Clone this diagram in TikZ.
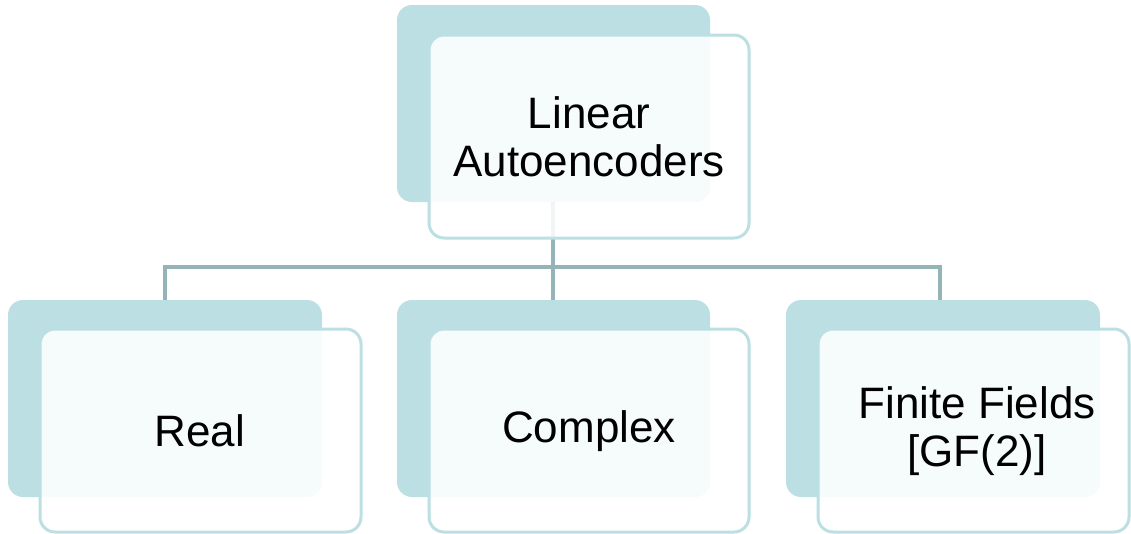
\documentclass[tikz,border=0pt]{standalone}
\usepackage{fontspec}
\setmainfont{Liberation Sans}
\definecolor{backfill}{HTML}{BCDFE3}
\definecolor{frontline}{HTML}{BCDFE3}
\definecolor{conn}{HTML}{94B4B8}
\begin{document}
\begin{tikzpicture}[x=1pt,y=-1pt,
  backbox/.style={fill=backfill,rounded corners=15pt},
  frontbox/.style={draw=frontline,line width=3pt,fill=white,fill opacity=0.88,draw opacity=1,text opacity=1,rounded corners=15pt},
  lbl/.style={font=\fontsize{44}{48}\selectfont,align=center,text=black},
  connline/.style={draw=conn,line width=4pt}]
\useasboundingbox (0,0) rectangle (1131,533);
% back boxes
\fill[backbox] (397,5) rectangle (710,202);
\fill[backbox] (8,300) rectangle (322,497);
\fill[backbox] (397,300) rectangle (710,497);
\fill[backbox] (786,300) rectangle (1100,497);
% connectors
\coordinate (top) at (553,202);
\coordinate (bar) at (553,267);
\coordinate (c1) at (165,300);
\coordinate (c2) at (553,300);
\coordinate (c3) at (940,300);
\draw[connline] (top) -- (bar);
\draw[connline] (c1) |- (bar) -| (c3);
\draw[connline] (bar) -- (c2);
% front boxes
\path[frontbox] (429,35) rectangle (749,238);
\path[frontbox] (40,329) rectangle (361,532);
\path[frontbox] (429,329) rectangle (749,532);
\path[frontbox] (818,329) rectangle (1129,532);
% labels
\node[lbl] (root) at (589,137) {Linear\\Autoencoders};
\node[lbl] (real) at (200,431) {Real};
\node[lbl] (cplx) at (589,431) {Complex};
\node[lbl] (ff) at (977,431) {Finite Fields\\{}[GF(2)]};
\end{tikzpicture}
\end{document}
